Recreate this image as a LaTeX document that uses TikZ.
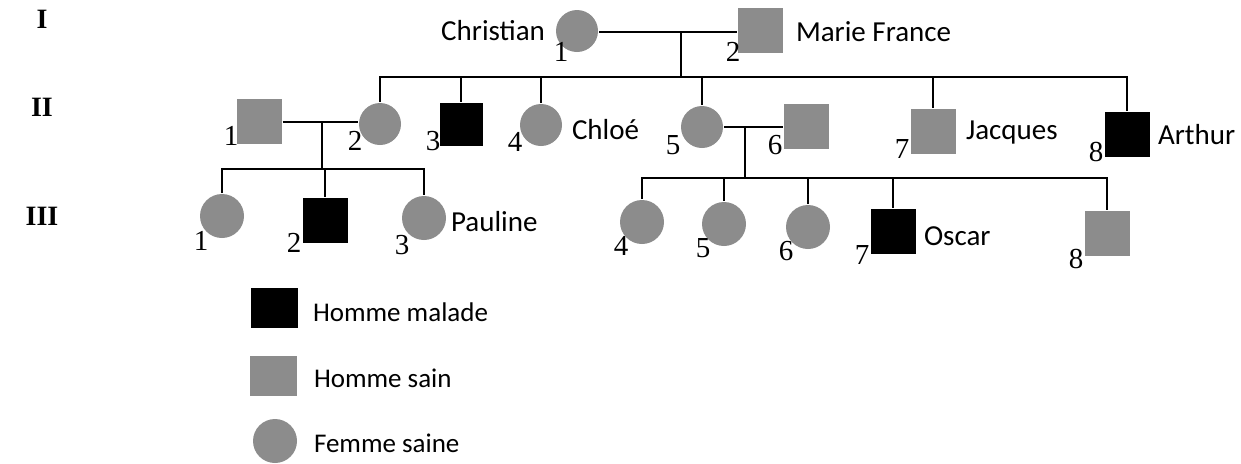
\documentclass[tikz,border=0pt]{standalone}
\usepackage{fontspec}
\setmainfont{Carlito}
\newfontfamily\numfont{Liberation Serif}
\definecolor{gris}{RGB}{140,140,140}
\tikzset{
    homme/.style={rectangle,minimum size=22.5pt,inner sep=0pt},
    femme/.style={circle,minimum size=21pt,inner sep=0pt,fill=gris},
    sain/.style={fill=gris},
    malade/.style={fill=black},
    nom/.style={font=\fontsize{14.5}{16}\selectfont,anchor=west,inner sep=0pt},
    legende/.style={font=\fontsize{13.5}{15}\selectfont,anchor=west,inner sep=0pt},
    num/.style={font=\numfont\fontsize{14.5}{16}\selectfont,inner sep=0pt},
    gen/.style={font=\numfont\bfseries\fontsize{14}{16}\selectfont,inner sep=0pt}
}
\begin{document}
\begin{tikzpicture}[x=0.5pt,y=-0.5pt,line width=1pt]
    \useasboundingbox (0,0) rectangle (1241,463);
    % generations
    \node [gen] (g1) at (42,19) {I};
    \node [gen] (g2) at (42,107) {II};
    \node [gen] (g3) at (42,216) {III};
    % generation I
    \node [femme] (c11) at (577,31) {};
    \node [num] (n11) at (561,52) {1};
    \node [nom,anchor=east] (t11) at (546,31) {Christian};
    \node [homme,sain] (s12) at (760,30) {};
    \node [num] (n12) at (733,52) {2};
    \node [nom] (t12) at (795,32) {Marie France};
    \coordinate (m1) at (681,32);
    \coordinate (f1) at (681,77);
    \draw (c11.east |- m1) -- (s12.west |- m1);
    \draw (m1) -- (f1);
    % generation II
    \node [homme,sain] (s21) at (259,121) {};
    \node [num] (n21) at (231,136) {1};
    \node [femme] (c22) at (380,124) {};
    \node [num] (n22) at (355,141) {2};
    \node [homme,malade,minimum size=21.5pt] (s23) at (461,124) {};
    \node [num] (n23) at (433,141) {3};
    \node [femme] (c24) at (541,125) {};
    \node [num] (n24) at (515,142) {4};
    \node [nom] (t24) at (571,130) {Chloé};
    \node [femme] (c25) at (702,127) {};
    \node [num] (n25) at (673,145) {5};
    \node [homme,sain] (s26) at (806,126) {};
    \node [num] (n26) at (775,145) {6};
    \node [homme,sain] (s27) at (933,131) {};
    \node [num] (n27) at (902,149) {7};
    \node [nom] (t27) at (965,133) {Jacques};
    \node [homme,malade] (s28) at (1127,134) {};
    \node [num] (n28) at (1096,152) {8};
    \node [nom] (t28) at (1157,135) {Arthur};
    \draw (c22.north) -- (c22.north |- f1) -- (s28.north |- f1) -- (s28.north);
    \foreach \n in {s23,c24,c25,s27} {
        \draw (\n.north) -- (\n.north |- f1);
    }
    \coordinate (m2) at (322,122);
    \coordinate (f2) at (322,169);
    \draw (s21.east |- m2) -- (c22.west |- m2);
    \draw (m2) -- (f2);
    \coordinate (m3) at (745,127);
    \coordinate (f3) at (745,178);
    \draw (c25.east |- m3) -- (s26.west |- m3);
    \draw (m3) -- (f3);
    % generation III
    \node [femme,minimum size=22pt] (c31) at (222,216) {};
    \node [num] (n31) at (201,241) {1};
    \node [homme,malade] (s32) at (325,220) {};
    \node [num] (n32) at (294,243) {2};
    \node [femme,minimum size=22pt] (c33) at (424,218) {};
    \node [num] (n33) at (402,245) {3};
    \node [nom] (t33) at (450,222) {Pauline};
    \node [femme,minimum size=22pt] (c34) at (642,222) {};
    \node [num] (n34) at (621,246) {4};
    \node [femme,minimum size=22pt] (c35) at (724,224) {};
    \node [num] (n35) at (703,248) {5};
    \node [femme,minimum size=22pt] (c36) at (808,227) {};
    \node [num] (n36) at (786,251) {6};
    \node [homme,malade] (s37) at (893,231) {};
    \node [num] (n37) at (862,255) {7};
    \node [nom] (t37) at (923,236) {Oscar};
    \node [homme,sain] (s38) at (1107,233) {};
    \node [num] (n38) at (1076,259) {8};
    \draw (c31.north) -- (c31.north |- f2) -- (c33.north |- f2) -- (c33.north);
    \draw (s32.north) -- (s32.north |- f2);
    \draw (c34.north) -- (c34.north |- f3) -- (s38.north |- f3) -- (s38.north);
    \foreach \n in {c35,c36,s37} {
        \draw (\n.north) -- (\n.north |- f3);
    }
    % legende
    \node [homme,malade,minimum width=23.5pt,minimum height=20pt] (l1) at (274,308) {};
    \node [legende] (lt1) at (312,312) {Homme malade};
    \node [homme,sain,minimum width=23.5pt,minimum height=20pt] (l2) at (273,376) {};
    \node [legende] (lt2) at (313,378) {Homme sain};
    \node [femme,minimum size=22pt] (l3) at (275,441) {};
    \node [legende] (lt3) at (313,443) {Femme saine};
\end{tikzpicture}
\end{document}
